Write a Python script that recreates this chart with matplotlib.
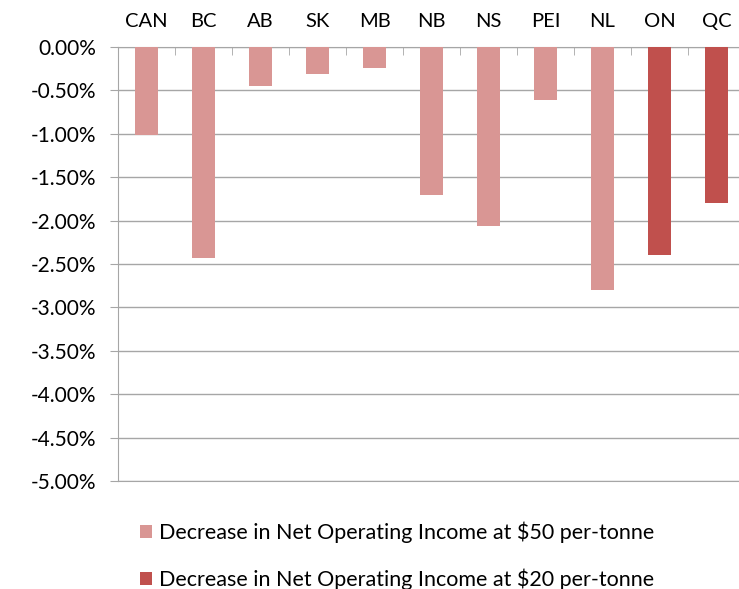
import matplotlib.pyplot as plt
from matplotlib.ticker import FuncFormatter

plt.rcParams['font.family'] = ['Lato', 'DejaVu Sans']

provinces = ["CAN", "BC", "AB", "SK", "MB", "NB", "NS", "PEI", "NL", "ON", "QC"]
# percent change in net operating income
at_50 = [-1.01, -2.43, -0.45, -0.31, -0.24, -1.71, -2.06, -0.61, -2.80, None, None]
at_20 = [None, None, None, None, None, None, None, None, None, -2.40, -1.80]

light = "#D99694"
dark = "#C0504D"
grey = "#a6a6a6"

fig = plt.figure(figsize=(7.39, 5.89), dpi=100)
ax = fig.add_axes([118 / 739, 108 / 589, 627 / 739, 434 / 589])

x = range(len(provinces))
v50 = [v if v is not None else 0 for v in at_50]
v20 = [v if v is not None else 0 for v in at_20]
ax.bar(x, v50, width=0.4, color=light, label="Decrease in Net Operating Income at $50 per-tonne", zorder=3)
ax.bar(x, v20, width=0.4, color=dark, label="Decrease in Net Operating Income at $20 per-tonne", zorder=3)

ax.set_xlim(-0.5, len(provinces) - 0.5)
ax.set_ylim(-5, 0)
ax.set_yticks([-5 + 0.5 * i for i in range(11)])
ax.yaxis.set_major_formatter(FuncFormatter(lambda v, p: f"{v:.2f}%"))
ax.grid(axis='y', color=grey, linewidth=1, zorder=0)

ax.xaxis.tick_top()
ax.set_xticks(list(x))
ax.set_xticklabels(provinces)
ax.set_xticks([i + 0.5 for i in range(-1, len(provinces))], minor=True)
ax.tick_params(axis='x', which='major', length=0, pad=12, labelsize=14.5)
ax.tick_params(axis='x', which='minor', direction='in', length=6, color=grey)
ax.tick_params(axis='y', length=6, color=grey, labelsize=15, pad=10)

ax.spines['right'].set_visible(False)
for s in ['top', 'left', 'bottom']:
    ax.spines[s].set_color(grey)

fig.legend(loc='upper left', bbox_to_anchor=(121 / 739, 1 - 502 / 589), frameon=False,
           fontsize=15.5, handlelength=0.55, handleheight=0.55, handletextpad=0.3,
           labelspacing=1.2)

fig.savefig("out.png", dpi=100)
